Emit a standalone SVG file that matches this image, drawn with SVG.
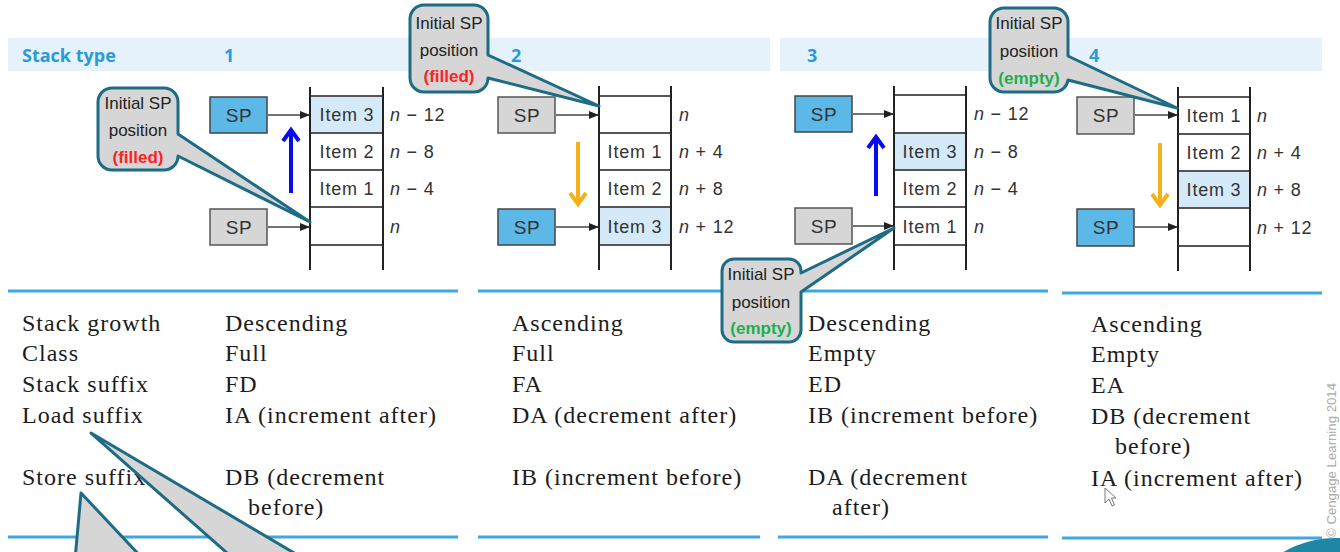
<svg xmlns="http://www.w3.org/2000/svg" width="1340" height="552" viewBox="0 0 1340 552">
<style>
.band{fill:#e5f2fb}
.hdr{font-family:"Open Sans","Liberation Sans",sans-serif;font-weight:bold;font-size:18px;fill:#2a9ad6}
.vl{stroke:#222;stroke-width:2}
.hl{stroke:#555;stroke-width:2}
.fill{fill:#d4eaf8}
.cell{font-family:"Liberation Sans",Arial,sans-serif;font-size:18px;fill:#333;letter-spacing:0.8px;text-anchor:middle}
.lbl{font-family:"Liberation Sans",Arial,sans-serif;font-size:18px;fill:#333;letter-spacing:0.8px}
.lbl tspan.i{font-style:italic}
.spb{fill:#5bb8e7;stroke:#444;stroke-width:1.5}
.spg{fill:#d6d6d6;stroke:#555;stroke-width:1.5}
.sp{font-family:"Liberation Sans",Arial,sans-serif;font-size:19px;fill:#333;letter-spacing:0.5px;text-anchor:middle}
.con{stroke:#444;stroke-width:1.6;fill:none;marker-end:url(#ah)}
.up{stroke:#0a0af0;stroke-width:4;fill:none}
.dn{stroke:#f6b018;stroke-width:4;fill:none}
.co{fill:#d6d6d6;stroke:#1d6b85;stroke-width:3;stroke-linejoin:round}
.cot{font-family:"Liberation Sans",Arial,sans-serif;font-size:17px;fill:#222;text-anchor:middle}
.red{fill:#f22;font-weight:bold}
.grn{fill:#1fae4e;font-weight:bold}
.sep{stroke:#3da8e0;stroke-width:3}
.body{font-family:"Liberation Serif","Times New Roman",serif;font-size:24px;fill:#1c1c1c;letter-spacing:1px}
</style>
<defs>
<marker id="ah" markerWidth="10" markerHeight="8" refX="9" refY="4" orient="auto" markerUnits="userSpaceOnUse"><path d="M0,0 L10,4 L0,8 Z" fill="#222"/></marker>
</defs>
<rect width="1340" height="552" fill="#fff"/>

<g id="header">
<rect class="band" x="8" y="38" width="762" height="33"/>
<rect class="band" x="780" y="38" width="542" height="33"/>
<text class="hdr" x="22" y="62">Stack type</text>
<text class="hdr" x="224" y="62">1</text>
<text class="hdr" x="511" y="62">2</text>
<text class="hdr" x="807" y="62">3</text>
<text class="hdr" x="1089" y="62">4</text>
</g>

<g id="separators">
<line class="sep" x1="8" y1="291" x2="458" y2="291"/>
<line class="sep" x1="478" y1="291" x2="1048" y2="291"/>
<line class="sep" x1="1062" y1="293" x2="1322" y2="293"/>
<line class="sep" x1="8" y1="537" x2="458" y2="537"/>
<line class="sep" x1="478" y1="537" x2="760" y2="537"/>
<line class="sep" x1="778" y1="537" x2="1048" y2="537"/>
<line class="sep" x1="1062" y1="538" x2="1322" y2="538"/>
</g>

<g id="stack1">
<rect class="fill" x="310" y="96" width="73" height="37"/>
<line class="hl" x1="310" y1="96" x2="383" y2="96"/><line class="hl" x1="310" y1="133" x2="383" y2="133"/><line class="hl" x1="310" y1="170" x2="383" y2="170"/><line class="hl" x1="310" y1="207" x2="383" y2="207"/><line class="hl" x1="310" y1="245" x2="383" y2="245"/>
<line class="vl" x1="310" y1="87" x2="310" y2="270"/><line class="vl" x1="383" y1="87" x2="383" y2="270"/>
<text class="cell" x="347" y="121">Item 3</text>
<text class="cell" x="347" y="158">Item 2</text>
<text class="cell" x="347" y="195">Item 1</text>
<text class="lbl" x="390" y="121"><tspan class="i">n</tspan> − 12</text>
<text class="lbl" x="390" y="158"><tspan class="i">n</tspan> − 8</text>
<text class="lbl" x="390" y="195"><tspan class="i">n</tspan> − 4</text>
<text class="lbl" x="390" y="233"><tspan class="i">n</tspan></text>
<rect class="spb" x="210" y="97" width="57" height="36"/><text class="sp" x="239" y="122">SP</text>
<rect class="spg" x="210" y="209" width="57" height="36"/><text class="sp" x="239" y="234">SP</text>
</g>

<g id="stack2">
<rect class="fill" x="599" y="207" width="72" height="38"/>
<line class="hl" x1="599" y1="96" x2="671" y2="96"/><line class="hl" x1="599" y1="133" x2="671" y2="133"/><line class="hl" x1="599" y1="170" x2="671" y2="170"/><line class="hl" x1="599" y1="207" x2="671" y2="207"/><line class="hl" x1="599" y1="245" x2="671" y2="245"/>
<line class="vl" x1="599" y1="86" x2="599" y2="270"/><line class="vl" x1="671" y1="86" x2="671" y2="270"/>
<text class="cell" x="635" y="158">Item 1</text>
<text class="cell" x="635" y="195">Item 2</text>
<text class="cell" x="635" y="233">Item 3</text>
<text class="lbl" x="679" y="121"><tspan class="i">n</tspan></text>
<text class="lbl" x="679" y="158"><tspan class="i">n</tspan> + 4</text>
<text class="lbl" x="679" y="195"><tspan class="i">n</tspan> + 8</text>
<text class="lbl" x="679" y="233"><tspan class="i">n</tspan> + 12</text>
<rect class="spg" x="498" y="97" width="57" height="36"/><text class="sp" x="527" y="122">SP</text>
<rect class="spb" x="498" y="209" width="57" height="36"/><text class="sp" x="527" y="234">SP</text>
</g>

<g id="stack3">
<rect class="fill" x="894" y="133" width="72" height="37"/>
<line class="hl" x1="894" y1="95" x2="966" y2="95"/><line class="hl" x1="894" y1="133" x2="966" y2="133"/><line class="hl" x1="894" y1="170" x2="966" y2="170"/><line class="hl" x1="894" y1="207" x2="966" y2="207"/><line class="hl" x1="894" y1="245" x2="966" y2="245"/>
<line class="vl" x1="894" y1="86" x2="894" y2="270"/><line class="vl" x1="966" y1="86" x2="966" y2="270"/>
<text class="cell" x="930" y="158">Item 3</text>
<text class="cell" x="930" y="195">Item 2</text>
<text class="cell" x="930" y="233">Item 1</text>
<text class="lbl" x="974" y="120"><tspan class="i">n</tspan> − 12</text>
<text class="lbl" x="974" y="158"><tspan class="i">n</tspan> − 8</text>
<text class="lbl" x="974" y="195"><tspan class="i">n</tspan> − 4</text>
<text class="lbl" x="974" y="233"><tspan class="i">n</tspan></text>
<rect class="spb" x="795" y="96" width="57" height="36"/><text class="sp" x="824" y="121">SP</text>
<rect class="spg" x="795" y="208" width="57" height="36"/><text class="sp" x="824" y="233">SP</text>
</g>

<g id="stack4">
<rect class="fill" x="1178" y="171" width="72" height="37"/>
<line class="hl" x1="1178" y1="97" x2="1250" y2="97"/><line class="hl" x1="1178" y1="134" x2="1250" y2="134"/><line class="hl" x1="1178" y1="171" x2="1250" y2="171"/><line class="hl" x1="1178" y1="208" x2="1250" y2="208"/><line class="hl" x1="1178" y1="246" x2="1250" y2="246"/>
<line class="vl" x1="1178" y1="87" x2="1178" y2="271"/><line class="vl" x1="1250" y1="87" x2="1250" y2="271"/>
<text class="cell" x="1214" y="122">Item 1</text>
<text class="cell" x="1214" y="159">Item 2</text>
<text class="cell" x="1214" y="196">Item 3</text>
<text class="lbl" x="1257" y="122"><tspan class="i">n</tspan></text>
<text class="lbl" x="1257" y="159"><tspan class="i">n</tspan> + 4</text>
<text class="lbl" x="1257" y="196"><tspan class="i">n</tspan> + 8</text>
<text class="lbl" x="1257" y="234"><tspan class="i">n</tspan> + 12</text>
<rect class="spg" x="1077" y="97" width="57" height="37"/><text class="sp" x="1106" y="122">SP</text>
<rect class="spb" x="1077" y="209" width="57" height="37"/><text class="sp" x="1106" y="234">SP</text>
</g>

<g id="connectors">
<line class="con" x1="268" y1="115" x2="309" y2="115"/>
<line class="con" x1="268" y1="227" x2="309" y2="227"/>
<line class="con" x1="556" y1="115" x2="598" y2="115"/>
<line class="con" x1="556" y1="227" x2="598" y2="227"/>
<line class="con" x1="853" y1="114" x2="893" y2="114"/>
<line class="con" x1="853" y1="226" x2="893" y2="226"/>
<line class="con" x1="1135" y1="115" x2="1177" y2="115"/>
<line class="con" x1="1135" y1="227" x2="1177" y2="227"/>
<path class="up" d="M291,193 V131 M283,141 L291,130 L299,141"/>
<path class="up" d="M876,196 V138 M868,148 L876,137 L884,148"/>
<path class="dn" d="M578,142 V203 M570,193 L578,204 L586,193"/>
<path class="dn" d="M1160,143 V204 M1152,194 L1160,205 L1168,194"/>
</g>

<g id="callout1">
<path class="co" d="M112,88 H164 A14,14 0 0 1 178,102 V134 L310,222 L178,156 A14,14 0 0 1 164,170 H112 A14,14 0 0 1 98,156 V102 A14,14 0 0 1 112,88 Z"/>
<text class="cot" x="138" y="109">Initial SP</text>
<text class="cot" x="138" y="136">position</text>
<text class="cot red" x="138" y="163">(filled)</text>
</g>
<g id="callout2">
<path class="co" d="M424,5 H474 A14,14 0 0 1 488,19 V55 L599,106 L488,78 A14,14 0 0 1 474,92 H424 A14,14 0 0 1 410,78 V19 A14,14 0 0 1 424,5 Z"/>
<text class="cot" x="449" y="29">Initial SP</text>
<text class="cot" x="449" y="56">position</text>
<text class="cot red" x="449" y="82">(filled)</text>
</g>
<g id="callout3">
<path class="co" d="M734,259 H789 A12,12 0 0 1 801,271 V273 L894,228 L801,292 V330 A12,12 0 0 1 789,342 H734 A12,12 0 0 1 722,330 V271 A12,12 0 0 1 734,259 Z"/>
<text class="cot" x="761" y="280">Initial SP</text>
<text class="cot" x="761" y="308">position</text>
<text class="cot grn" x="761" y="334">(empty)</text>
</g>
<g id="callout4">
<path class="co" d="M1004,8 H1054 A14,14 0 0 1 1068,22 V56 L1177,108 L1068,80 A14,14 0 0 1 1054,92 H1004 A14,14 0 0 1 990,78 V22 A14,14 0 0 1 1004,8 Z"/>
<text class="cot" x="1029" y="29">Initial SP</text>
<text class="cot" x="1029" y="57">position</text>
<text class="cot grn" x="1029" y="84">(empty)</text>
</g>

<g id="table">
<text class="body" x="22" y="331">Stack growth</text>
<text class="body" x="22" y="361">Class</text>
<text class="body" x="22" y="392">Stack suffix</text>
<text class="body" x="22" y="423">Load suffix</text>
<text class="body" x="22" y="485">Store suffix</text>
<text class="body" x="225" y="331">Descending</text>
<text class="body" x="225" y="361">Full</text>
<text class="body" x="225" y="392">FD</text>
<text class="body" x="225" y="423">IA (increment after)</text>
<text class="body" x="225" y="485">DB (decrement</text>
<text class="body" x="248" y="515">before)</text>
<text class="body" x="512" y="331">Ascending</text>
<text class="body" x="512" y="361">Full</text>
<text class="body" x="512" y="392">FA</text>
<text class="body" x="512" y="423">DA (decrement after)</text>
<text class="body" x="512" y="485">IB (increment before)</text>
<text class="body" x="808" y="331">Descending</text>
<text class="body" x="808" y="361">Empty</text>
<text class="body" x="808" y="392">ED</text>
<text class="body" x="808" y="423">IB (increment before)</text>
<text class="body" x="808" y="485">DA (decrement</text>
<text class="body" x="832" y="515">after)</text>
<text class="body" x="1091" y="332">Ascending</text>
<text class="body" x="1091" y="362">Empty</text>
<text class="body" x="1091" y="393">EA</text>
<text class="body" x="1091" y="424">DB (decrement</text>
<text class="body" x="1115" y="454">before)</text>
<text class="body" x="1091" y="486">IA (increment after)</text>
</g>

<g id="bottom-tails">
<path class="co" d="M75,560 L81,493 L144,560 Z"/>
<path class="co" d="M91,433 L235,560 L306,560 Z"/>
</g>

<path d="M1105,488 V503 L1109,499 L1112,506 L1114.5,505 L1111.5,498 L1116,498 Z" fill="#fff" stroke="#777" stroke-width="1"/>
<text x="1336" y="538" transform="rotate(-90 1336 538)" font-family="Liberation Sans,Arial,sans-serif" font-size="12" fill="#aaa" textLength="155" lengthAdjust="spacingAndGlyphs">© Cengage Learning 2014</text>
<circle cx="1335" cy="640" r="102" fill="#1f86a6"/>
</svg>
